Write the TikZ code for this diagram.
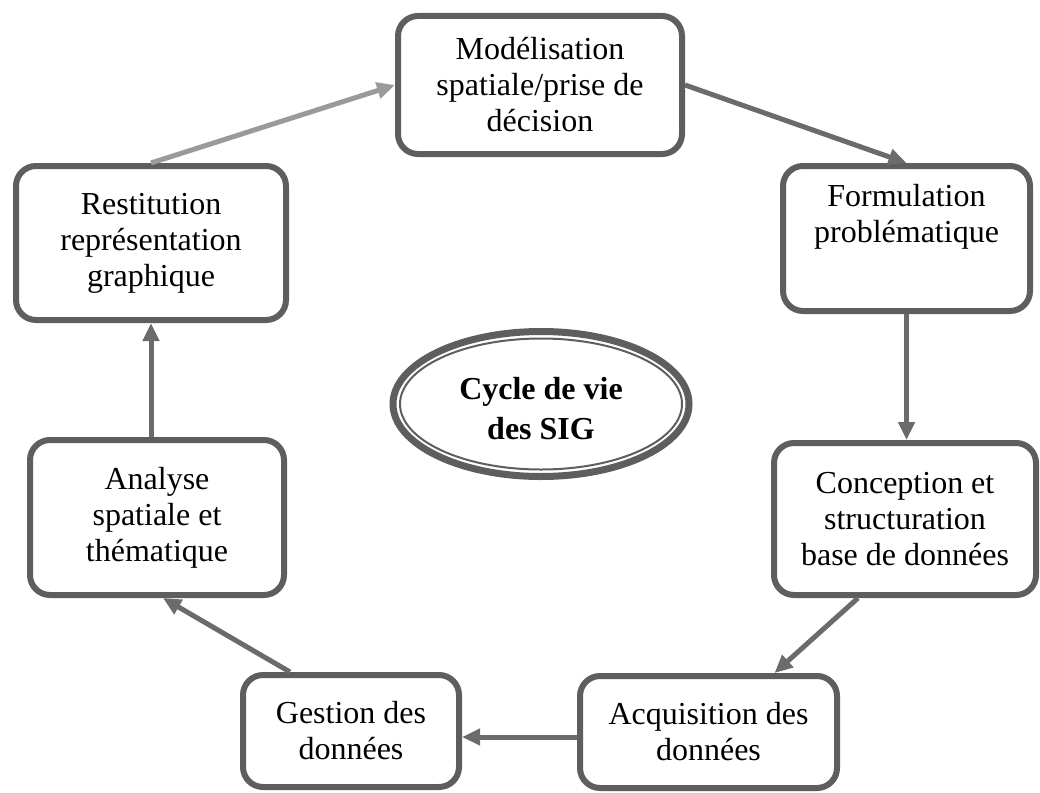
\documentclass[tikz,border=0pt]{standalone}
\usepackage{fontspec}
\setmainfont{Liberation Serif}
\usetikzlibrary{arrows.meta,shapes.geometric}
\definecolor{boxline}{HTML}{5E5E5E}
\definecolor{arrowdark}{HTML}{6B6B6B}
\definecolor{arrowlight}{HTML}{9A9A9A}
\begin{document}
\begin{tikzpicture}[x=1pt,y=-1pt,
  stage/.style={draw=boxline, line width=6pt, rounded corners=20pt, fill=white,
    align=center, inner sep=2pt, font=\fontsize{32}{36}\selectfont},
  flow/.style={draw=arrowdark, line width=5pt, -{Triangle[length=18pt,width=16pt]}},
]
\useasboundingbox (0,0) rectangle (1040,792);

% stages of the cycle
\node[stage, minimum width=284pt, minimum height=138pt] (mod)  at (540,85)
  {Modélisation\\spatiale/prise de\\décision};
\node[stage, minimum width=247pt, minimum height=145pt, text depth=50pt] (form) at (906.5,238.5)
  {Formulation\\problématique};
\node[stage, minimum width=262pt, minimum height=152pt] (conc) at (905,519)
  {Conception et\\structuration\\base de données};
\node[stage, minimum width=257pt, minimum height=112pt] (acq)  at (708.5,732)
  {Acquisition des\\données};
\node[stage, minimum width=216pt, minimum height=112pt] (gest) at (351,731)
  {Gestion des\\données};
\node[stage, minimum width=254pt, minimum height=155pt] (anal) at (157,517.5)
  {Analyse\\spatiale et\\thématique};
\node[stage, minimum width=270pt, minimum height=154pt] (rest) at (151,243)
  {Restitution\\représentation\\graphique};

% central title with thick-thin double outline
\node[ellipse, draw=boxline, line width=7pt, minimum width=296pt, minimum height=145pt,
  inner sep=0pt, align=center, text height=72pt,
  font=\fontsize{32}{40}\selectfont\bfseries] (cyc) at (541,404)
  {Cycle de vie\\des SIG};
\draw[boxline, line width=2pt] (cyc.center) ellipse [x radius=141pt, y radius=65.5pt];

% connectors
\draw[flow, draw=arrowlight] (rest.north) -- (mod.west);
\draw[flow] (mod.east) -- (form.north);
\draw[flow] (form.south) -- (form.south |- conc.north);
\draw[flow] ([xshift=-47pt]conc.south) -- ([xshift=66pt]acq.north);
\draw[flow] ([yshift=-5pt]acq.west) -- ([yshift=-5pt]acq.west -| gest.east);
\draw[flow] ([xshift=-61pt]gest.north) -- ([xshift=6pt]anal.south);
\draw[flow] (anal.north -| rest.south) -- (rest.south);
\end{tikzpicture}
\end{document}
